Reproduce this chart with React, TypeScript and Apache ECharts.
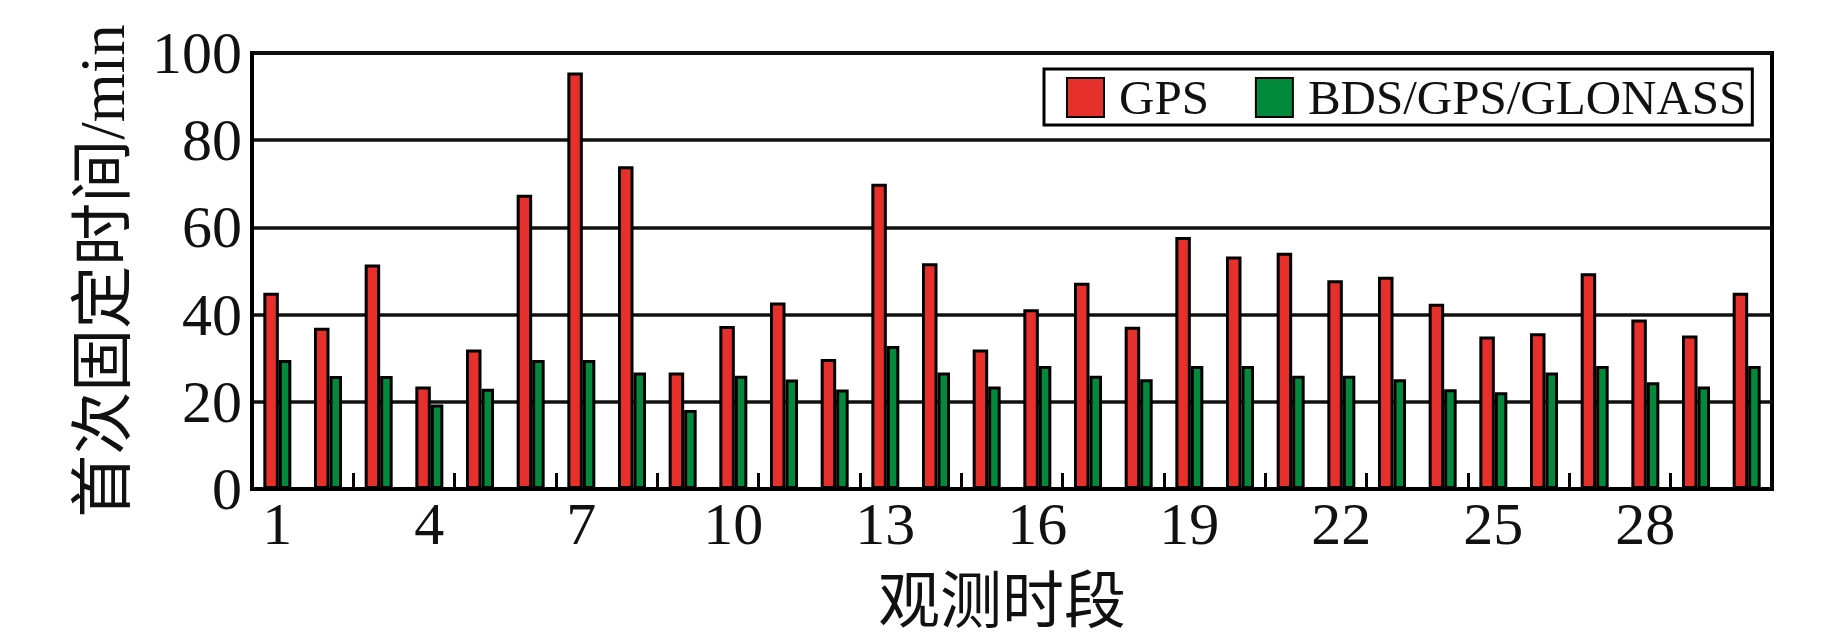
import React, { useEffect, useRef } from "react";
import * as echarts from "echarts";

const categories = [
  "1", "2", "3", "4", "5", "6", "7", "8", "9", "10",
  "11", "12", "13", "14", "15", "16", "17", "18", "19", "20",
  "21", "22", "23", "24", "25", "26", "27", "28", "29", "30",
];
const gpsValues = [
  45, 37, 51.5, 23.5, 32, 67.5, 95.5, 74, 26.7, 37.4,
  42.8, 29.8, 70, 51.8, 32, 41.2, 47.3, 37.2, 57.8, 53.3,
  54.2, 47.9, 48.7, 42.5, 35, 35.7, 49.5, 38.9, 35.2, 45,
];
const multiValues = [
  29.6, 25.9, 25.9, 19.4, 23, 29.6, 29.6, 26.7, 18.1, 26,
  25.1, 22.8, 32.8, 26.7, 23.5, 28.2, 26, 25.2, 28.2, 28.2,
  26, 26, 25.2, 22.9, 22.2, 26.7, 28.2, 24.5, 23.5, 28.2,
];
const seriesNames = ["GPS", "BDS/GPS/GLONASS"];
const yTitle = "首次固定时间/min";
const xTitle = "观测时段";

const SERIF = "'Liberation Serif', 'Times New Roman', 'Noto Sans CJK SC', serif";

export default function App() {
  const ref = useRef<HTMLDivElement>(null);
  useEffect(() => {
    if (!ref.current) return;
    const chart = echarts.init(ref.current, null, { renderer: "svg" });
    chart.setOption({
      animation: false,
      backgroundColor: "#fff",
      grid: {
        left: 252,
        right: 71,
        top: 53,
        bottom: 146,
        show: true,
        borderColor: "#000",
        borderWidth: 4,
      },
      legend: {
        left: 1044,
        top: 69,
        icon: "rect",
        itemWidth: 37,
        itemHeight: 39,
        itemGap: 46,
        padding: [4, 6, 3, 22],
        borderColor: "#000",
        borderWidth: 3,
        backgroundColor: "#fff",
        textStyle: {
          fontFamily: SERIF,
          fontSize: 49,
          color: "#111",
          padding: [0, 0, 0, 10],
        },
        data: seriesNames,
      },
      xAxis: {
        type: "category",
        data: categories,
        name: xTitle,
        nameLocation: "middle",
        nameGap: 82,
        nameTextStyle: {
          fontFamily: SERIF,
          fontSize: 62,
          color: "#111",
          padding: [0, 20, 0, 0],
        },
        axisLine: { show: true, lineStyle: { color: "#000", width: 4 } },
        axisTick: {
          show: true,
          inside: true,
          length: 16,
          interval: 1,
          lineStyle: { color: "#000", width: 3 },
        },
        axisLabel: {
          interval: 2,
          margin: 5,
          fontFamily: SERIF,
          fontSize: 60,
          color: "#111",
        },
        splitLine: { show: false },
      },
      yAxis: {
        type: "value",
        min: 0,
        max: 100,
        interval: 20,
        name: yTitle,
        nameLocation: "middle",
        nameGap: 118,
        nameTextStyle: {
          fontFamily: SERIF,
          fontSize: 63,
          color: "#111",
        },
        axisLine: { show: true, lineStyle: { color: "#000", width: 4 } },
        axisTick: { show: false },
        axisLabel: {
          margin: 10,
          fontFamily: SERIF,
          fontSize: 60,
          color: "#111",
        },
        splitLine: { show: true, lineStyle: { color: "#111", width: 3.5 } },
      },
      series: [
        {
          name: seriesNames[0],
          type: "bar",
          data: gpsValues,
          barWidth: 15.5,
          barGap: "0%",
          itemStyle: { color: "#e5302c", borderColor: "#000", borderWidth: 3 },
        },
        {
          name: seriesNames[1],
          type: "bar",
          data: multiValues,
          barWidth: 12.5,
          barGap: "0%",
          itemStyle: { color: "#028a3c", borderColor: "#000", borderWidth: 3 },
        },
      ],
    });
    return () => chart.dispose();
  }, []);
  return (
    <div
      ref={ref}
      style={{ position: "fixed", left: 0, top: 0, width: 1843, height: 638 }}
    />
  );
}
